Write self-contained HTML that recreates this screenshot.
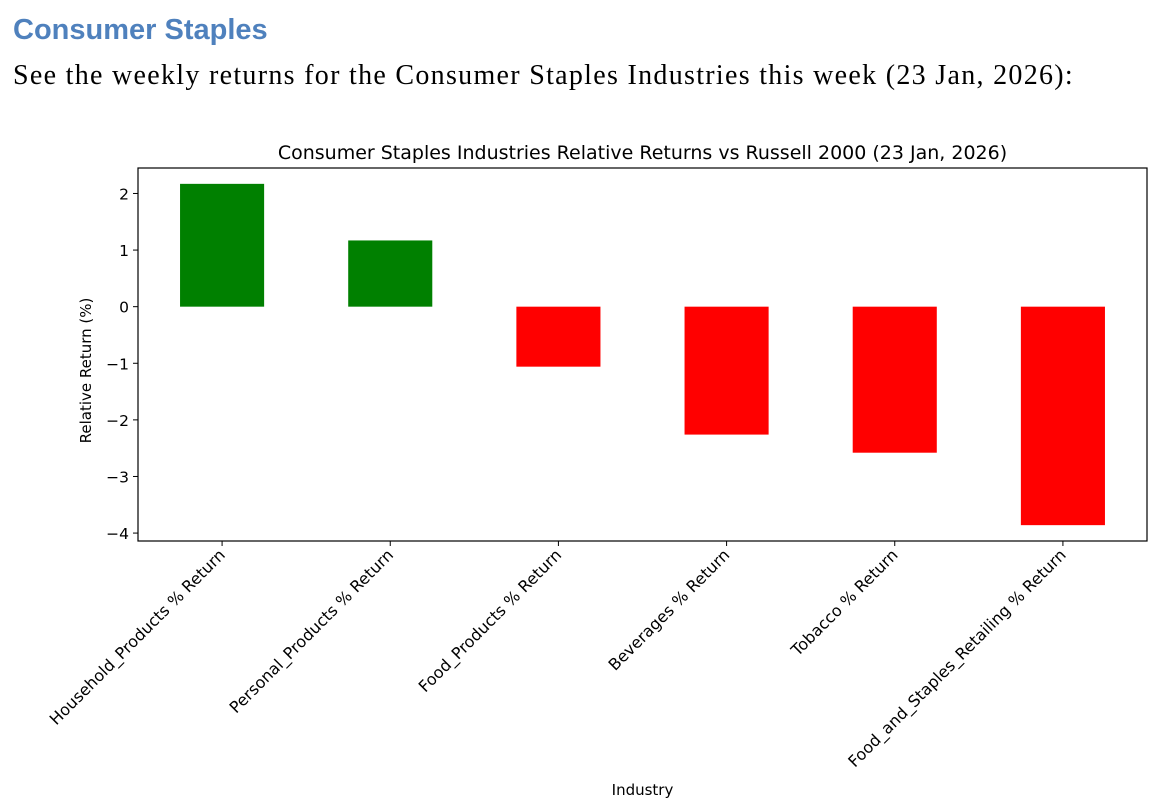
<!DOCTYPE html>
<html><head><meta charset="utf-8"><style>
body{margin:0;width:1176px;height:810px;background:#fff;overflow:hidden;position:relative}
.h{position:absolute;left:13px;top:14px;font:bold 29px "Liberation Sans",sans-serif;color:#4f81bd}
.s{position:absolute;left:13px;top:60px;font:28px "Liberation Serif",serif;color:#000;letter-spacing:1.3px}
svg{position:absolute;left:0;top:0}
text{font-family:"DejaVu Sans","Liberation Sans",sans-serif;fill:#000}
</style></head><body>
<div class="h">Consumer Staples</div>
<div class="s">See the weekly returns for the Consumer Staples Industries this week (23 Jan, 2026):</div>
<svg id="c" width="1176" height="810"></svg>
<script>
const categories=["Household_Products % Return","Personal_Products % Return","Food_Products % Return","Beverages % Return","Tobacco % Return","Food_and_Staples_Retailing % Return"];
const values=[2.17,1.17,-1.06,-2.26,-2.58,-3.86];
const yTicks=[2,1,0,-1,-2,-3,-4];
const L=138,R=1147,T=168,B=541,yMax=2.45,yMin=-4.14;
const ns="http://www.w3.org/2000/svg",svg=document.getElementById('c');
const y=v=>T+(yMax-v)/(yMax-yMin)*(B-T);
const step=(R-L)/categories.length;
const x=i=>L+step*(i+0.5);
function mk(t,a,txt){const e=document.createElementNS(ns,t);for(const k in a)e.setAttribute(k,a[k]);if(txt!==undefined)e.textContent=txt;svg.appendChild(e);return e;}
values.forEach((v,i)=>{const bw=step*0.5;
const r=mk('rect',{x:x(i)-bw/2,y:Math.min(y(v),y(0)),width:bw,height:Math.abs(y(v)-y(0)),fill:v>=0?'#008000':'#ff0000'});


mk('line',{x1:x(i),x2:x(i),y1:B,y2:B+5,stroke:'#000','stroke-width':1});
const t=mk('text',{x:x(i)+4,y:B+15,'font-size':16,'text-anchor':'end',transform:`rotate(-45 ${x(i)+4} ${B+15})`},categories[i]);


});
yTicks.forEach(v=>{mk('line',{x1:L-5,x2:L,y1:y(v),y2:y(v),stroke:'#000'});
const t=mk('text',{x:L-9,y:y(v)+6,'font-size':15.5,'text-anchor':'end'},v<0?'\u2212'+(-v):String(v));

});
const f=mk('rect',{x:L,y:T,width:R-L,height:B-T,fill:'none',stroke:'#000','stroke-width':1.2});


const tt=mk('text',{x:(L+R)/2,y:T-9,'font-size':19,'text-anchor':'middle'},'Consumer Staples Industries Relative Returns vs Russell 2000 (23 Jan, 2026)');


const yl=mk('text',{x:91,y:(T+B)/2+16,'font-size':15,'text-anchor':'middle',transform:`rotate(-90 91 ${(T+B)/2+16})`},'Relative Return (%)');


const xl=mk('text',{x:(L+R)/2,y:795,'font-size':15,'text-anchor':'middle'},'Industry');


</script>
</body></html>
